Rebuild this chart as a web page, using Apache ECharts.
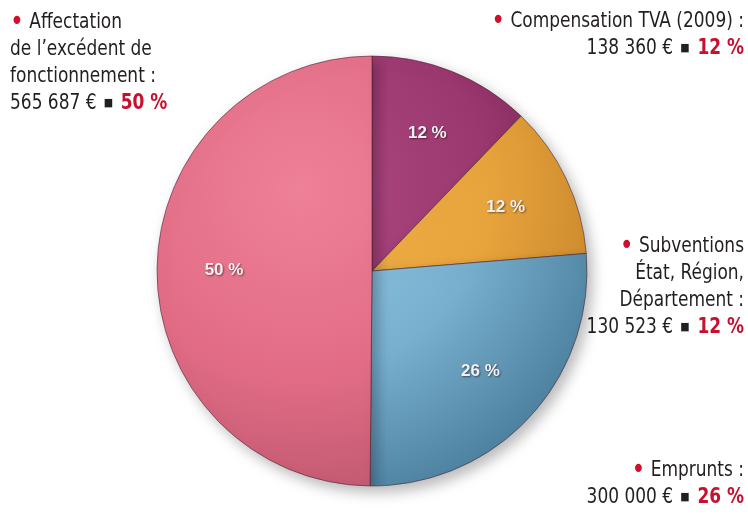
<!DOCTYPE html>
<html><head><meta charset="utf-8">
<script src="https://cdn.jsdelivr.net/npm/echarts@6/dist/echarts.min.js"></script>
<style>html,body{margin:0;padding:0;background:#fff}#c{width:748px;height:514px}</style>
</head><body><div id="c"></div>
<script>
// Data
const names = ['Compensation TVA (2009) :', 'Subventions\nÉtat, Région,\nDépartement :', 'Emprunts :', 'Affectation\nde l\u2019excédent de\nfonctionnement :'];
const amounts = ['138 360 €', '130 523 €', '300 000 €', '565 687 €'];
const values = [138360, 130523, 300000, 565687];
const pctLabels = ['12 %', '12 %', '26 %', '50 %'];

const FONT = '"DejaVu Sans Condensed", "Liberation Sans", sans-serif';
const cx = 372, cy = 271, R = 215;

function grad(c0, c1, c2) {
  return { type: 'radial', x: cx - 70, y: cy - 80, r: R + 120, global: true,
    colorStops: [{ offset: 0, color: c0 }, { offset: 0.55, color: c1 }, { offset: 1, color: c2 }] };
}
const sliceColors = [
  grad('#b04a84', '#9b386f', '#6e2250'),
  grad('#f2b24c', '#e8a43c', '#c4832a'),
  grad('#98cdea', '#78afce', '#4a7d9c'),
  grad('#ee8098', '#e26c86', '#b9566c')
];

const rich = {
  t: { fontFamily: FONT, fontSize: 21, fill: '#231f20', lineHeight: 27 },
  dot: { fontFamily: FONT, fontSize: 29, fill: '#d0102a', lineHeight: 27 },
  sq: { fontFamily: 'DejaVu Sans', fontSize: 11, fill: '#231f20', lineHeight: 27, padding: [0, 2, 0, 2] },
  pct: { fontFamily: FONT, fontSize: 21, fontWeight: 'bold', fill: '#c8102e', lineHeight: 27 }
};
function labelText(i) {
  const lines = names[i].split('\n');
  const out = ['{dot|•}{t| ' + lines[0] + '}'];
  for (let k = 1; k < lines.length; k++) out.push('{t|' + lines[k] + '}');
  out.push('{t|' + amounts[i] + ' }{sq|■}{pct| ' + pctLabels[i] + '}');
  return out.join('\n');
}
// outer annotation placement (layout only)
const place = [
  { x: 744, y: 8, align: 'right' },
  { x: 744, y: 233, align: 'right' },
  { x: 744, y: 457, align: 'right' },
  { x: 10, y: 9, align: 'left' }
];
const graphics = place.map((p, i) => ({
  type: 'text', x: p.x, y: p.y, scaleX: 0.9,
  style: { text: labelText(i), rich: rich, align: p.align, verticalAlign: 'top',
    fontFamily: FONT, fontSize: 21, lineHeight: 27, fill: '#231f20' }
}));

const chart = echarts.init(document.getElementById('c'), null, { renderer: 'canvas' });
chart.setOption({
  backgroundColor: '#ffffff',
  animation: false,
  graphic: graphics,
  series: [
    {
      type: 'pie', center: [cx, cy], radius: [0, R], startAngle: 90, clockwise: true,
      silent: true, label: { show: false }, labelLine: { show: false },
      itemStyle: { borderColor: 'rgba(70,30,45,0.55)', borderWidth: 1,
        shadowBlur: 14, shadowOffsetX: 5, shadowOffsetY: 6, shadowColor: 'rgba(0,0,0,0.28)' },
      data: values.map((v, i) => ({ value: v, name: names[i], itemStyle: { color: sliceColors[i] } }))
    },
    {
      type: 'pie', center: [cx, cy], radius: [100, 190], startAngle: 90, clockwise: true,
      silent: true, z: 5,
      itemStyle: { color: 'rgba(0,0,0,0)', borderWidth: 0 },
      labelLine: { show: false },
      label: { show: true, position: 'inside', formatter: p => pctLabels[p.dataIndex],
        fontFamily: '"Liberation Sans", Arial, sans-serif', fontWeight: 'bold', fontSize: 17,
        color: '#f6f0f2', textShadowColor: 'rgba(0,0,0,0.5)', textShadowBlur: 2,
        textShadowOffsetX: 1, textShadowOffsetY: 1 },
      data: values.map((v, i) => ({ value: v, name: names[i] }))
    }
  ]
});
</script></body></html>
